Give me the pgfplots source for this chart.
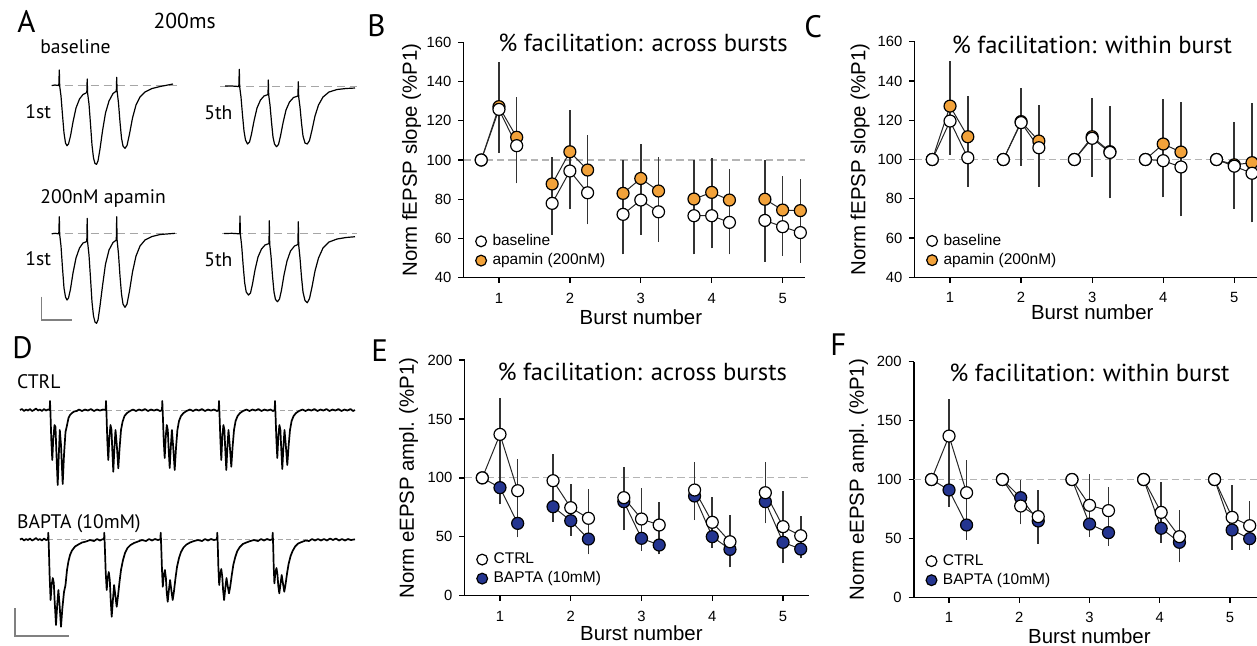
\documentclass[border=0pt]{standalone}
\usepackage{fontspec}
\setmainfont{Liberation Sans}
\newfontfamily\myr{PT Sans}
\usepackage{pgfplots}
\pgfplotsset{compat=1.18}
\definecolor{apaorange}{HTML}{F2A23A}
\definecolor{baptablue}{HTML}{243590}
\definecolor{refgray}{HTML}{B4B4B4}

\tikzset{
  ptitle/.style={anchor=base west, inner sep=0pt, font=\myr\fontsize{12.3}{14}\selectfont},
  tlabel/.style={anchor=base west, inner sep=0pt, font=\myr\fontsize{9.8}{11}\selectfont},
  letter/.style={anchor=base west, inner sep=0pt, font=\myr\fontsize{15.5}{17}\selectfont},
}
% common look of the four summary panels
\pgfplotsset{
  panel/.style={
    scale only axis, clip=false,
    axis lines=left, axis line style={-, line width=0.65pt, black},
    tick align=outside, major tick length=2.6pt,
    tick style={line width=0.65pt, black},
    xtick={1,2,3,4,5},
    tick label style={font=\fontsize{7.4}{8}\selectfont},
    xticklabel style={yshift=-1.5pt},
    /pgf/number format/assume math mode=true,
    label style={font=\fontsize{10.2}{12}\selectfont},
    xlabel={Burst number},
    unbounded coords=jump,
    legend cell align=left,
    reverse legend,
    legend style={draw=none, fill=none, font=\fontsize{7.75}{9}\selectfont,
      at={(axis description cs:0,0)}, anchor=south west, xshift=5.9pt, yshift=4.3pt,
      inner sep=0pt, row sep=1.5pt, column sep=2.5pt, nodes={inner sep=0.5pt}},
    legend image code/.code={\draw[##1, mark size=2.7pt] plot coordinates {(0pt,0pt)};},
  },
  refline/.style={refgray, line width=0.6pt, dash pattern=on 3.6pt off 2pt, forget plot},
  conn/.style={black!85, line width=0.5pt, no markers, forget plot},
  ebar/.style={black!80, line width=0.8pt, no markers, forget plot},
  whitedot/.style={only marks, mark=*, mark size=3pt, mark options={fill=white, draw=black, line width=0.6pt}},
  orangedot/.style={only marks, mark=*, mark size=3pt, mark options={fill=apaorange, draw=black, line width=0.6pt}},
  bluedot/.style={only marks, mark=*, mark size=3pt, mark options={fill=baptablue, draw=black, line width=0.6pt}},
  trace/.style={black, line width=0.6pt, no markers, line join=round},
  noisy/.style={black, line width=0.85pt, no markers, line join=round},
  tdash/.style={black!35, line width=0.5pt, dash pattern=on 4pt off 2.5pt},
  ddash/.style={black!35, line width=0.45pt, dash pattern=on 2.5pt off 1.6pt},
  sbar/.style={black!50, line width=0.6pt, no markers},
}

\begin{document}
\begin{tikzpicture}
\useasboundingbox (0,0) rectangle (628.5pt,-322.5pt);

% ---------- traces (A, D) in pixel coordinates ----------
\begin{axis}[at={(0,0)}, anchor=north west, scale only axis, width=628.5pt, height=322.5pt,
  xmin=0, xmax=1257, ymin=0, ymax=645, y dir=reverse, hide axis, clip=false]
\addplot[tdash] coordinates {(51.7,85) (176.7,85)};
\addplot[tdash] coordinates {(220,86) (356.7,86)};
\addplot[tdash] coordinates {(51.7,233.3) (176.7,233.3)};
\addplot[tdash] coordinates {(222,233.3) (356.7,233.3)};
\addplot[ddash] coordinates {(50,410) (353.3,410)};
\addplot[ddash] coordinates {(48.3,539.3) (353.3,539.3)};

% A, baseline, 1st burst
\addplot[trace] coordinates {(51.7,85.5)(55,85)(58.8,85.5)(59.3,70)(59.7,86)(61,96)(62.5,115)(64,133)(65.5,143)(67,145.7)(68.5,144)(70.5,136)(73,122)(76,108)(79.5,99)(83,94.5)(86.8,92.5)(87.2,79)(87.6,93)(89,104)(90.5,124)(92,145)(93.5,158)(95,163.5)(96.5,164.3)(98,161)(100,149)(102.5,131)(105.5,113)(109,101)(113,93.5)(116.3,91)(116.7,77.3)(117.1,91)(118.5,103)(120,122)(121.5,138)(123,146)(125,148.3)(127,145.5)(129.5,134)(132.5,118)(136,105)(140,97)(145,92)(152,88.5)(160,86.5)(173,84)};
% A, baseline, 5th burst
\addplot[trace] coordinates {(225,86)(232,86)(238.8,86.5)(239.3,69.3)(239.7,87)(241,97)(242.5,115)(244,131)(245.5,140)(247.5,144)(249.5,142)(251.5,134)(254,121)(257,108)(260.5,100)(264,96)(268,94.5)(268.3,80)(268.7,95)(270,105)(271.5,122)(273,137)(274.5,144)(276.5,146.7)(278.5,144.5)(280.5,136)(283,123)(286,110)(289.5,102)(293.5,97.5)(297.9,96)(298.3,81.7)(298.7,97)(300,107)(301.5,123)(303,136)(305,143)(307.3,144)(309.5,140.5)(312,130)(315,116)(318.5,105)(323,97)(329,92)(337,89.5)(346,88.5)(355,88)};
% A, apamin, 1st burst
\addplot[trace] coordinates {(51.7,233.8)(55,233.3)(58.8,233.8)(59.3,216.7)(59.7,234.5)(61,246)(62.5,268)(64,288)(65.5,297)(67,300)(68.5,298)(70.5,289)(73,273)(76,258)(79.5,248)(83,243)(86.8,241.5)(87.2,218.3)(87.6,242)(89,255)(90.5,278)(92,302)(93.5,316)(95,322)(96.5,323.3)(98,320)(100,306)(102.5,286)(105.5,264)(109,250)(113,242.5)(116.3,240)(116.7,216.7)(117.1,240)(118.5,254)(120,276)(121.5,294)(123,304)(125,307.3)(127,304)(129.5,291)(132.5,272)(136,256)(140,246)(145,240)(152,236.5)(160,234.5)(175,233.3)};
% A, apamin, 5th burst
\addplot[trace] coordinates {(224,233.5)(232,233.3)(239.6,233.8)(240,216)(240.4,234.5)(241.7,246)(243.2,266)(244.7,283)(246.2,292)(248.5,295)(250.5,293)(252.5,284)(255,270)(258,257)(261.5,249)(265,245)(269,243.5)(269.3,220.7)(269.7,244)(271,256)(272.5,276)(274,292)(275.5,299.5)(277.5,301.7)(279.5,299)(281.5,290)(284,275)(287,261)(290.5,251)(294.5,246)(297.9,244.5)(298.3,221.7)(298.7,245)(300,258)(301.5,277)(303,292)(305,300.5)(307.3,302.7)(309.5,298.5)(312,287)(315,271)(318.5,258)(323,248)(329,242)(337,239)(346,237.5)(355,236.7)};
\addplot[sbar] coordinates {(41.7,296.7) (41.7,320) (71.7,320)};

% D, CTRL
\addplot[noisy] coordinates {(20,410)(22,409)(24,411)(26,409.5)(28,410.5)(30,409)(32,411)(34,410)(36,408.5)(38,410.5)(40,409.5)(42,411)(44,409)(46,410.5)(48,409.5)(49.7,410)
(50,401)(50.5,414)(51.3,440)(52.3,460)(53.2,440)(54.5,425)(55.5,427)(56.3,450)(57.7,485)(58.8,455)(59.8,430)(61,445)(62.7,484)(64,455)(65.5,432)(66.7,426.7)(68.5,418)(70,415)(72,413)(74,411.5)(76.7,411)(79,409.5)(82,411)(85,409.5)(88,410.5)(91,409)(94,411)(97,409.5)(100,410.5)(103,409.5)(105.7,410)
(106,401)(106.5,414)(107.3,440)(108.3,460)(109.3,438)(110.5,425)(111.5,430)(112.3,450)(113.3,471.7)(114.4,448)(115.5,430)(116.8,445)(118.3,468.3)(119.6,448)(121,430)(122.5,422)(124.5,416)(127,413)(130,411)(133,409.5)(136,411)(139,409.5)(142,410.5)(145,409)(148,411)(151,409.5)(154,410.5)(157,409.5)(160,411)(162,410)
(162.3,401)(162.8,414)(163.7,440)(164.7,458)(165.7,437)(166.8,425)(167.8,430)(168.7,450)(169.7,468)(170.8,447)(171.9,430)(173.2,447)(174.7,470)(176,448)(177.4,430)(179,421)(181,416)(183.5,413)(186.5,411)(190,409.5)(193,411)(196,409.5)(199,410.5)(202,409)(205,411)(208,409.5)(211,410.5)(214,409.5)(217,411)(218.7,410)
(219,401)(219.5,414)(220.4,440)(221.3,460)(222.3,437)(223.4,425)(224.4,430)(225.3,450)(226.3,470)(227.4,447)(228.5,430)(229.8,446)(231.3,466.7)(232.6,447)(234,430)(235.6,421)(237.6,416)(240,413)(243,411)(246.5,409.5)(249.5,411)(252.5,409.5)(255.5,410.5)(258.5,409)(261.5,411)(264.5,409.5)(267.5,410.5)(270.5,409.5)(273,411)(274.7,410)
(275,401)(275.5,414)(276.4,440)(277.3,458)(278.3,437)(279.4,425)(280.4,430)(281.3,450)(282.3,469)(283.4,447)(284.5,430)(285.8,445)(287.3,465)(288.6,446)(290,430)(291.6,421)(293.6,416)(296,413)(299,411)(302.5,409.5)(305.5,411)(308.5,409.5)(311.5,410.5)(314.5,409)(317.5,411)(320.5,409.5)(323.5,410.5)(326.5,409)(329.5,411)(332.5,409.5)(335.5,410.5)(338.5,409)(341.5,411)(344.5,409.5)(347.5,410.5)(350.5,409)(353,411)(355,410)};
% D, BAPTA
\addplot[noisy] coordinates {(20,539.5)(22,538.5)(24,540.5)(26,539)(28,540)(30,538.5)(32,540.5)(34,539.5)(36,538)(38,540)(40,539)(42,540.5)(44,538.5)(46,540)(48,539.3)
(48.3,532.7)(48.8,546)(49.6,575)(50.6,600)(51.6,585)(52.8,578)(53.8,583)(54.6,600)(56,625)(57.2,605)(58.4,590)(59.6,605)(61,626.7)(62.4,608)(64,592)(65.5,585)(67,570)(68.5,561)(70,555)(72,550.5)(75,546.5)(78.3,544.5)(82,542.5)(86,541.5)(90,540)(94,541)(97,539)(100,540.5)(103,539)(104,539.5)
(104.3,532.7)(104.8,546)(105.7,572)(106.7,590)(107.7,578)(108.8,572)(109.8,580)(110.6,598)(111.7,616.7)(112.9,600)(114.1,585)(115.3,595)(116.7,606.7)(118,596)(119.5,582)(121,570)(123,560)(125,553)(127.5,548)(130.5,545)(134,543)(138,541.5)(142,540)(146,541)(149,539)(152,540.5)(155,539)(158,540)(160.4,539.3)
(160.7,532.7)(161.2,546)(162,570)(162.8,586.7)(163.8,575)(164.9,570)(165.9,578)(166.7,592)(167.7,601.7)(168.9,590)(170.1,580)(171.3,590)(172.7,600)(174,591)(175.5,578)(177,567)(179,558)(181,552)(183.5,547.5)(186.5,544.5)(190,542.5)(194,541)(198,540)(202,541)(205,539)(208,540.5)(211,539)(214,540)(217,539.3)
(217.3,532.7)(217.8,546)(218.4,568)(219.2,585)(220.2,574)(221.3,569)(222.3,577)(223.1,590)(224.1,600)(225.3,588)(226.5,578)(227.7,586)(229,593.3)(230.3,586)(231.8,575)(233.3,565)(235.3,557)(237.3,551)(239.8,547)(242.8,544)(246.3,542.5)(250.3,541)(254,540)(258,541)(261,539)(264,540.5)(267,539)(270,540)(272.4,539.3)
(272.7,532.7)(273.2,546)(273.7,566)(274.4,583.3)(275.4,572)(276.5,568)(277.5,575)(278.3,586)(279.3,593.3)(280.5,584)(281.7,575)(282.9,583)(284.3,591.7)(285.6,584)(287.1,573)(288.6,564)(290.6,556)(292.6,551)(295.1,546.5)(298.1,543.5)(301.6,542)(305.6,540.5)(309,541)(312,539)(315,540.5)(318,539)(321,540.5)(324,539)(327,540.5)(330,538.5)(333,540)(336,538.5)(339,540.5)(342,539)(345,540.5)(348,539)(351,540)(355,539.3)};
\addplot[sbar] coordinates {(15,608.3) (15,636) (69,636)};

\node[letter] at (axis cs:17,32) {A};
\node[letter] at (axis cs:367,36) {B};
\node[letter] at (axis cs:804,37) {C};
\node[letter] at (axis cs:12,358) {D};
\node[letter] at (axis cs:371,361) {E};
\node[letter] at (axis cs:830,355) {F};
\node[tlabel] at (axis cs:40,53.3) {baseline};
\node[tlabel, font=\myr\fontsize{10.8}{12}\selectfont] at (axis cs:153.3,28.3) {200ms};
\node[tlabel] at (axis cs:25,118.3) {1st};
\node[tlabel] at (axis cs:204,119.3) {5th};
\node[tlabel] at (axis cs:40,203.3) {200nM apamin};
\node[tlabel] at (axis cs:25,265) {1st};
\node[tlabel] at (axis cs:204,266.7) {5th};
\node[tlabel] at (axis cs:16.7,388.3) {CTRL};
\node[tlabel] at (axis cs:16.7,528.3) {BAPTA (10mM)};
\end{axis}

% ---------- B: across bursts, fEPSP slope ----------
\begin{axis}[panel, at={(231.75pt,-138.85pt)}, anchor=south west,
  width=170.55pt, height=117.7pt, xmin=0.5, xmax=5.31, ymin=40, ymax=160,
  ytick={40,60,...,160}, ylabel={Norm fEPSP slope (\%P1)},
  ylabel style={at={(axis description cs:-0.152,0.5)}, anchor=center},
  xlabel style={at={(axis description cs:0.52,-0.166)}, anchor=center}]
\addplot[refline] coordinates {(0.5,100) (5.31,100)};
\addplot[ebar] coordinates {(1,103.7)(1,149.8)(1,nan)(1.25,88.1)(1.25,132.3)(1.25,nan)(1.75,61.8)(1.75,101.5)(1.75,nan)(2,75)(2,125.5)(2,nan)(2.25,67.2)(2.25,112.7)(2.25,nan)(2.75,51.9)(2.75,100)(2.75,nan)(3,61.8)(3,108)(3,nan)(3.25,58.4)(3.25,101.7)(3.25,nan)(3.75,51.9)(3.75,100)(3.75,nan)(4,55)(4,101.2)(4,nan)(4.25,51.9)(4.25,95.2)(4.25,nan)(4.75,48.2)(4.75,100)(4.75,nan)(5,51.1)(5,91.9)(5,nan)(5.25,47.7)(5.25,90.2)};
\addplot[conn] coordinates {(0.75,100)(1,127.2)(1.25,111.6)(1.5,nan)(1.75,87.8)(2,104.2)(2.25,94.9)(2.5,nan)(2.75,83)(3,90.6)(3.25,84.2)(3.5,nan)(3.75,80.1)(4,83.5)(4.25,79.6)(4.5,nan)(4.75,80)(5,74.5)(5.25,74.2)};
\addplot[conn] coordinates {(0.75,100)(1,125.8)(1.25,107.3)(1.5,nan)(1.75,77.9)(2,94.4)(2.25,83.3)(2.5,nan)(2.75,72.3)(3,79.6)(3.25,73.6)(3.5,nan)(3.75,71.6)(4,71.6)(4.25,68.2)(4.5,nan)(4.75,69.2)(5,66)(5.25,63)};
\addplot[orangedot] coordinates {(0.75,100)(1,127.2)(1.25,111.6)(1.75,87.8)(2,104.2)(2.25,94.9)(2.75,83)(3,90.6)(3.25,84.2)(3.75,80.1)(4,83.5)(4.25,79.6)(4.75,80)(5,74.5)(5.25,74.2)};
\addlegendentry{apamin (200nM)}
\addplot[whitedot] coordinates {(0.75,100)(1,125.8)(1.25,107.3)(1.75,77.9)(2,94.4)(2.25,83.3)(2.75,72.3)(3,79.6)(3.25,73.6)(3.75,71.6)(4,71.6)(4.25,68.2)(4.75,69.2)(5,66)(5.25,63)};
\addlegendentry{baseline}
\node[ptitle, yshift=-4.7pt] at (axis cs:0.985,160) {\% facilitation: across bursts};
\end{axis}

% ---------- C: within burst, fEPSP slope ----------
\begin{axis}[panel, at={(457.25pt,-138.65pt)}, anchor=south west,
  width=171.25pt, height=117.8pt, xmin=0.5, xmax=5.32, ymin=40, ymax=160,
  ytick={40,60,...,160}, ylabel={Norm fEPSP slope (\%P1)},
  ylabel style={at={(axis description cs:-0.159,0.5)}, anchor=center},
  xlabel style={at={(axis description cs:0.519,-0.146)}, anchor=center}]
\addplot[refline] coordinates {(0.5,100) (5.32,100)};
\addplot[ebar] coordinates {(1,102.3)(1,150.2)(1,nan)(1.25,86.2)(1.25,132.5)(1.25,nan)(2,96.7)(2,136.2)(2,nan)(2.25,86.2)(2.25,127.8)(2.25,nan)(3,91.3)(3,131.1)(3,nan)(3.25,80.2)(3.25,127.2)(3.25,nan)(4,80.7)(4,130.8)(4,nan)(4.25,71)(4.25,129.1)(4.25,nan)(5,75)(5,119.3)(5,nan)(5.25,68)(5.25,128.6)};
\addplot[conn] coordinates {(0.75,100)(1,127.2)(1.25,111.6)(1.5,nan)(1.75,100)(2,119.3)(2.25,109.4)(2.5,nan)(2.75,100)(3,111.6)(3.25,104)(3.5,nan)(3.75,100)(4,107.9)(4.25,103.8)(4.5,nan)(4.75,100)(5,97.3)(5.25,98.4)};
\addplot[conn] coordinates {(0.75,100)(1,119.6)(1.25,100.9)(1.5,nan)(1.75,100)(2,118.8)(2.25,106)(2.5,nan)(2.75,100)(3,110.8)(3.25,103.6)(3.5,nan)(3.75,100)(4,99.4)(4.25,96.2)(4.5,nan)(4.75,100)(5,96.6)(5.25,93)};
\addplot[orangedot] coordinates {(0.75,100)(1,127.2)(1.25,111.6)(1.75,100)(2,119.3)(2.25,109.4)(2.75,100)(3,111.6)(3.25,104)(3.75,100)(4,107.9)(4.25,103.8)(4.75,100)(5,97.3)(5.25,98.4)};
\addlegendentry{apamin (200nM)}
\addplot[whitedot] coordinates {(0.75,100)(1,119.6)(1.25,100.9)(1.75,100)(2,118.8)(2.25,106)(2.75,100)(3,110.8)(3.25,103.6)(3.75,100)(4,99.4)(4.25,96.2)(4.75,100)(5,96.6)(5.25,93)};
\addlegendentry{baseline}
\node[ptitle, yshift=-5.8pt] at (axis cs:1.02,160) {\% facilitation: within burst};
\end{axis}

% ---------- E: across bursts, eEPSP amplitude ----------
\begin{axis}[panel, at={(232.3pt,-297.85pt)}, anchor=south west,
  width=171.95pt, height=117.85pt, xmin=0.5, xmax=5.36, ymin=0, ymax=200,
  ytick={0,50,...,200}, ylabel={Norm eEPSP ampl. (\%P1)},
  ylabel style={at={(axis description cs:-0.1626,0.5)}, anchor=center},
  xlabel style={at={(axis description cs:0.514,-0.157)}, anchor=center}]
\addplot[refline] coordinates {(0.5,100) (5.36,100)};
\addplot[ebar] coordinates {(1,77.5)(1,167.5)(1,nan)(1.25,49.5)(1.25,116)(1.25,nan)(1.75,62.8)(1.75,120.2)(1.75,nan)(2,51)(2,94.8)(2,nan)(2.25,35.1)(2.25,90.3)(2.25,nan)(2.75,55.7)(2.75,109.5)(2.75,nan)(3,38.2)(3,91.6)(3,nan)(3.25,35.1)(3.25,79.8)(3.25,nan)(3.75,64.2)(3.75,113.7)(3.75,nan)(4,40.7)(4,83.5)(4,nan)(4.25,24)(4.25,68.5)(4.25,nan)(4.75,61.4)(4.75,113.7)(4.75,nan)(5,27.5)(5,89.1)(5,nan)(5.25,31.7)(5.25,67.9)};
\addplot[conn] coordinates {(0.75,100)(1,91.7)(1.25,61.4)(1.5,nan)(1.75,75.5)(2,63.6)(2.25,48.1)(2.5,nan)(2.75,79.8)(3,48.7)(3.25,43)(3.5,nan)(3.75,84.6)(4,50.1)(4.25,39.3)(4.5,nan)(4.75,79.8)(5,45.3)(5.25,39.6)};
\addplot[conn] coordinates {(0.75,100)(1,136.9)(1.25,89.1)(1.5,nan)(1.75,97.6)(2,74.7)(2.25,65.7)(2.5,nan)(2.75,83.2)(3,65.1)(3.25,60)(3.5,nan)(3.75,89.7)(4,62.3)(4.25,45.8)(4.5,nan)(4.75,87.4)(5,58.6)(5.25,50.9)};
\addplot[bluedot] coordinates {(0.75,100)(1,91.7)(1.25,61.4)(1.75,75.5)(2,63.6)(2.25,48.1)(2.75,79.8)(3,48.7)(3.25,43)(3.75,84.6)(4,50.1)(4.25,39.3)(4.75,79.8)(5,45.3)(5.25,39.6)};
\addlegendentry{BAPTA (10mM)}
\addplot[whitedot] coordinates {(0.75,100)(1,136.9)(1.25,89.1)(1.75,97.6)(2,74.7)(2.25,65.7)(2.75,83.2)(3,65.1)(3.25,60)(3.75,89.7)(4,62.3)(4.25,45.8)(4.75,87.4)(5,58.6)(5.25,50.9)};
\addlegendentry{CTRL}
\node[ptitle, yshift=-10pt] at (axis cs:0.96,200) {\% facilitation: across bursts};
\end{axis}

% ---------- F: within burst, eEPSP amplitude ----------
\begin{axis}[panel, at={(456.95pt,-298.65pt)}, anchor=south west,
  width=171.4pt, height=117.8pt, xmin=0.5, xmax=5.38, ymin=0, ymax=200,
  ytick={0,50,...,200}, ylabel={Norm eEPSP ampl. (\%P1)},
  ylabel style={at={(axis description cs:-0.161,0.5)}, anchor=center},
  xlabel style={at={(axis description cs:0.512,-0.166)}, anchor=center}]
\addplot[refline] coordinates {(0.5,100) (5.38,100)};
\addplot[ebar] coordinates {(1,77)(1,168)(1,nan)(1.25,48.7)(1.25,116.5)(1.25,nan)(2.02,62)(2.02,99.6)(2.02,nan)(2.27,45.3)(2.27,91)(2.27,nan)(3,51.5)(3,104.4)(3,nan)(3.27,43.8)(3.27,93.4)(3.27,nan)(4.02,46.4)(4.02,98.2)(4.02,nan)(4.28,29.7)(4.28,74.1)(4.28,nan)(5.03,40.2)(5.03,95.3)(5.03,nan)(5.28,40.2)(5.28,82)};
\addplot[conn] coordinates {(0.75,100)(1,91.1)(1.25,61.4)(1.5,nan)(1.76,100)(2.02,84.6)(2.27,64.8)(2.5,nan)(2.75,100)(3,62.2)(3.27,54.9)(3.5,nan)(3.77,100)(4.02,58.6)(4.28,46.7)(4.5,nan)(4.78,100)(5.03,57.1)(5.28,49.8)};
\addplot[conn] coordinates {(0.75,100)(1,136.9)(1.25,88.8)(1.5,nan)(1.76,100)(2.02,77.5)(2.27,68.5)(2.5,nan)(2.75,100)(3,78.1)(3.27,73.6)(3.5,nan)(3.77,100)(4.02,72.1)(4.28,51.5)(4.5,nan)(4.78,100)(5.03,67.9)(5.28,60.8)};
\addplot[bluedot] coordinates {(0.75,100)(1,91.1)(1.25,61.4)(1.76,100)(2.02,84.6)(2.27,64.8)(2.75,100)(3,62.2)(3.27,54.9)(3.77,100)(4.02,58.6)(4.28,46.7)(4.78,100)(5.03,57.1)(5.28,49.8)};
\addlegendentry{BAPTA (10mM)}
\addplot[whitedot] coordinates {(0.75,100)(1,136.9)(1.25,88.8)(1.76,100)(2.02,77.5)(2.27,68.5)(2.75,100)(3,78.1)(3.27,73.6)(3.77,100)(4.02,72.1)(4.28,51.5)(4.78,100)(5.03,67.9)(5.28,60.8)};
\addlegendentry{CTRL}
\node[ptitle, yshift=-10pt] at (axis cs:1.0,200) {\% facilitation: within burst};
\end{axis}
\end{tikzpicture}
\end{document}
